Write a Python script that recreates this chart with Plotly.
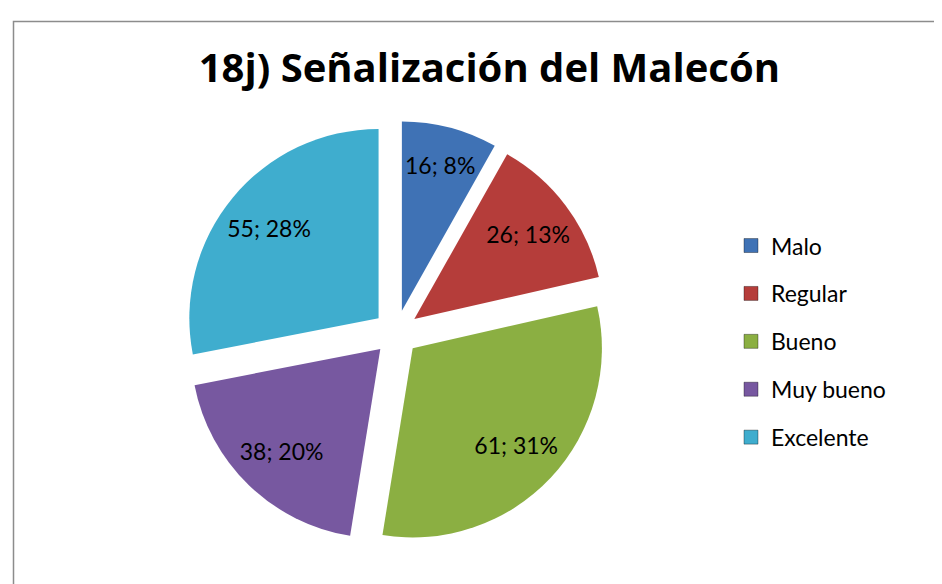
import plotly.graph_objects as go

categories = ["Malo", "Regular", "Bueno", "Muy bueno", "Excelente"]
values = [16, 26, 61, 38, 55]
percent_labels = ["8%", "13%", "31%", "20%", "28%"]
colors = ["#3F72B5", "#B53D3A", "#8BAF42", "#7758A0", "#3FADCE"]
title_text = "18j) Señalización del Malecón"

texts = [f"{v}; {p}" for v, p in zip(values, percent_labels)]

W, H = 942, 584
PULL = 0.12
DOMAIN = dict(x=[0.187, 0.637], y=[0.081, 0.807])

fig = go.Figure()

# coloured slices
fig.add_trace(go.Pie(
    labels=categories,
    values=values,
    textinfo="none",
    marker=dict(colors=colors, line=dict(color="white", width=0)),
    sort=False,
    direction="clockwise",
    rotation=0,
    pull=[PULL] * len(values),
    showlegend=False,
    hoverinfo="label+value+percent",
    domain=DOMAIN,
))

# transparent ring carrying the data labels toward the outer part of each slice
fig.add_trace(go.Pie(
    labels=categories,
    values=values,
    text=texts,
    texttemplate="%{text}",
    textposition="inside",
    insidetextorientation="horizontal",
    textfont=dict(family="Lato", size=23, color="black"),
    marker=dict(colors=["rgba(0,0,0,0)"] * len(values),
                line=dict(color="rgba(0,0,0,0)", width=0)),
    hole=0.5,
    sort=False,
    direction="clockwise",
    rotation=0,
    pull=[PULL] * len(values),
    showlegend=False,
    hoverinfo="skip",
    domain=DOMAIN,
))

for c, col in zip(categories, colors):
    fig.add_trace(go.Scatter(
        x=[None], y=[None], mode="markers", name=c,
        marker=dict(symbol="square", size=14, color=col,
                    line=dict(color="rgba(0,0,0,0.35)", width=1)),
        legendgroup=c, showlegend=True,
    ))

fig.update_layout(
    width=W, height=H,
    margin=dict(l=0, r=0, t=0, b=0),
    paper_bgcolor="white",
    plot_bgcolor="white",
    xaxis=dict(visible=False),
    yaxis=dict(visible=False),
    uniformtext=dict(minsize=23, mode="show"),
    title=dict(text=f"<b>{title_text}</b>", x=0.511, xanchor="center",
               y=1 - 60 / H, yanchor="middle",
               font=dict(family="Open Sans", size=40, color="black")),
    legend=dict(x=0.7675, y=0.630, xanchor="left", yanchor="top",
                font=dict(family="Lato", size=23, color="black"),
                tracegroupgap=15, bgcolor="rgba(0,0,0,0)"),
    shapes=[dict(type="rect", xref="paper", yref="paper",
                 x0=5.5 / W, x1=1.02, y0=-0.05, y1=1 - 13.5 / H,
                 line=dict(color="#8C8C8C", width=1.5))],
)

fig.write_html("out.html")
